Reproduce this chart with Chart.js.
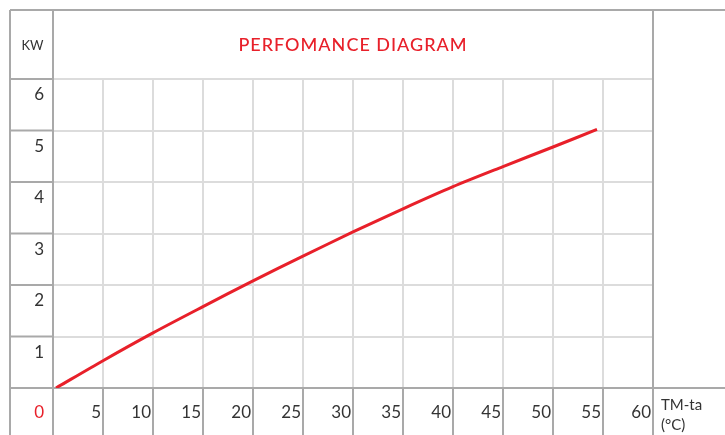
<!DOCTYPE html>
<html>
<head>
<meta charset="utf-8">
<script src="https://cdn.jsdelivr.net/npm/chart.js@4/dist/chart.umd.min.js"></script>
<style>
  html, body { margin: 0; padding: 0; background: #fff; }
  #wrap { width: 725px; height: 435px; position: relative; }
</style>
</head>
<body>
<div id="wrap"><canvas id="c"></canvas></div>
<script>
// values
const tempDiff = [0.3, 5, 10, 15, 20, 25, 30, 35, 40, 45, 50, 54.4]
const powerKw = [0, 0.53, 1.07, 1.58, 2.08, 2.56, 3.03, 3.48, 3.91, 4.30, 4.68, 5.02]
const xTickLabels = [5, 10, 15, 20, 25, 30, 35, 40, 45, 50, 55, 60]
const yTickLabels = [1, 2, 3, 4, 5, 6]
const titleText = 'PERFOMANCE DIAGRAM'
const yUnit = 'KW'
const xUnit = ['TM-ta', '(°C)']

const RED = '#e8202a'
const DARK = '#a9a9a9'
const LIGHT = '#dcdcdc'
const TEXT = '#333'
const FONT = 'Lato, "Open Sans", sans-serif'
const OUTER = 10

function hline(ctx, y, x1, x2, color) {
  ctx.strokeStyle = color
  ctx.beginPath()
  ctx.moveTo(x1, y)
  ctx.lineTo(x2, y)
  ctx.stroke()
}
function vline(ctx, x, y1, y2, color) {
  ctx.strokeStyle = color
  ctx.beginPath()
  ctx.moveTo(x, y1)
  ctx.lineTo(x, y2)
  ctx.stroke()
}

// frame, table cells and texts
const framePlugin = {
  id: 'frame',
  beforeDatasetsDraw(chart) {
    const { ctx, chartArea: a, scales, width, height } = chart
    const xs = scales.x, ys = scales.y
    ctx.save()
    ctx.lineWidth = 2
    hline(ctx, OUTER, OUTER, width, DARK)
    vline(ctx, OUTER, OUTER, height, DARK)
    vline(ctx, a.left, OUTER, height, DARK)
    vline(ctx, a.right, OUTER, height, DARK)
    yTickLabels.forEach(v => {
      const y = ys.getPixelForValue(v)
      hline(ctx, y, OUTER, a.left, DARK)
    })
    xTickLabels.forEach(v => {
      const x = xs.getPixelForValue(v)
      vline(ctx, x, a.bottom, height, DARK)
    })
    hline(ctx, a.bottom, OUTER, width, DARK)
    ctx.restore()
  },
  afterDraw(chart) {
    const { ctx, chartArea: a, scales } = chart
    const xs = scales.x, ys = scales.y
    ctx.save()
    ctx.textBaseline = 'middle'
    // title
    ctx.fillStyle = RED
    ctx.font = '500 18px ' + FONT
    ctx.letterSpacing = '1px'
    ctx.textAlign = 'center'
    ctx.fillText(titleText, (a.left + a.right) / 2, (OUTER + a.top) / 2 + 1)
    ctx.letterSpacing = '0px'
    // units
    ctx.fillStyle = TEXT
    ctx.font = '13px ' + FONT
    ctx.fillText(yUnit, (OUTER + a.left) / 2 + 1, (OUTER + a.top) / 2 + 1)
    ctx.font = '15px ' + FONT
    ctx.textAlign = 'left'
    ctx.fillText(xUnit[0], a.right + 8, a.bottom + 17)
    ctx.fillText(xUnit[1], a.right + 8, a.bottom + 37)
    // y labels
    ctx.font = '17px ' + FONT
    ctx.textAlign = 'right'
    yTickLabels.forEach(v => {
      ctx.fillText(String(v), a.left - 9, ys.getPixelForValue(v) + 16)
    })
    // x labels
    const rowY = (a.bottom + chart.height) / 2 + 1
    xTickLabels.forEach(v => {
      ctx.fillText(String(v), xs.getPixelForValue(v) - 2, rowY)
    })
    ctx.fillStyle = RED
    ctx.fillText('0', a.left - 9, rowY)
    ctx.restore()
  }
}

new Chart(document.getElementById('c'), {
  type: 'line',
  data: {
    datasets: [{
      data: tempDiff.map((t, i) => ({ x: t, y: powerKw[i] })),
      borderColor: RED,
      borderWidth: 3,
      pointRadius: 0,
      tension: 0.3,
      fill: false
    }]
  },
  options: {
    responsive: true,
    maintainAspectRatio: false,
    animation: false,
    layout: { padding: { left: 53, right: 72, top: 79, bottom: 47 } },
    plugins: {
      legend: { display: false },
      tooltip: { enabled: false },
      title: { display: false }
    },
    scales: {
      x: {
        type: 'linear',
        min: 0,
        max: 60,
        ticks: { stepSize: 5, display: false },
        border: { display: false },
        grid: { color: LIGHT, lineWidth: 2, drawTicks: false }
      },
      y: {
        min: 0,
        max: 6,
        ticks: { stepSize: 1, display: false },
        border: { display: false },
        grid: { color: LIGHT, lineWidth: 2, drawTicks: false }
      }
    }
  },
  plugins: [framePlugin]
})
</script>
</body>
</html>
